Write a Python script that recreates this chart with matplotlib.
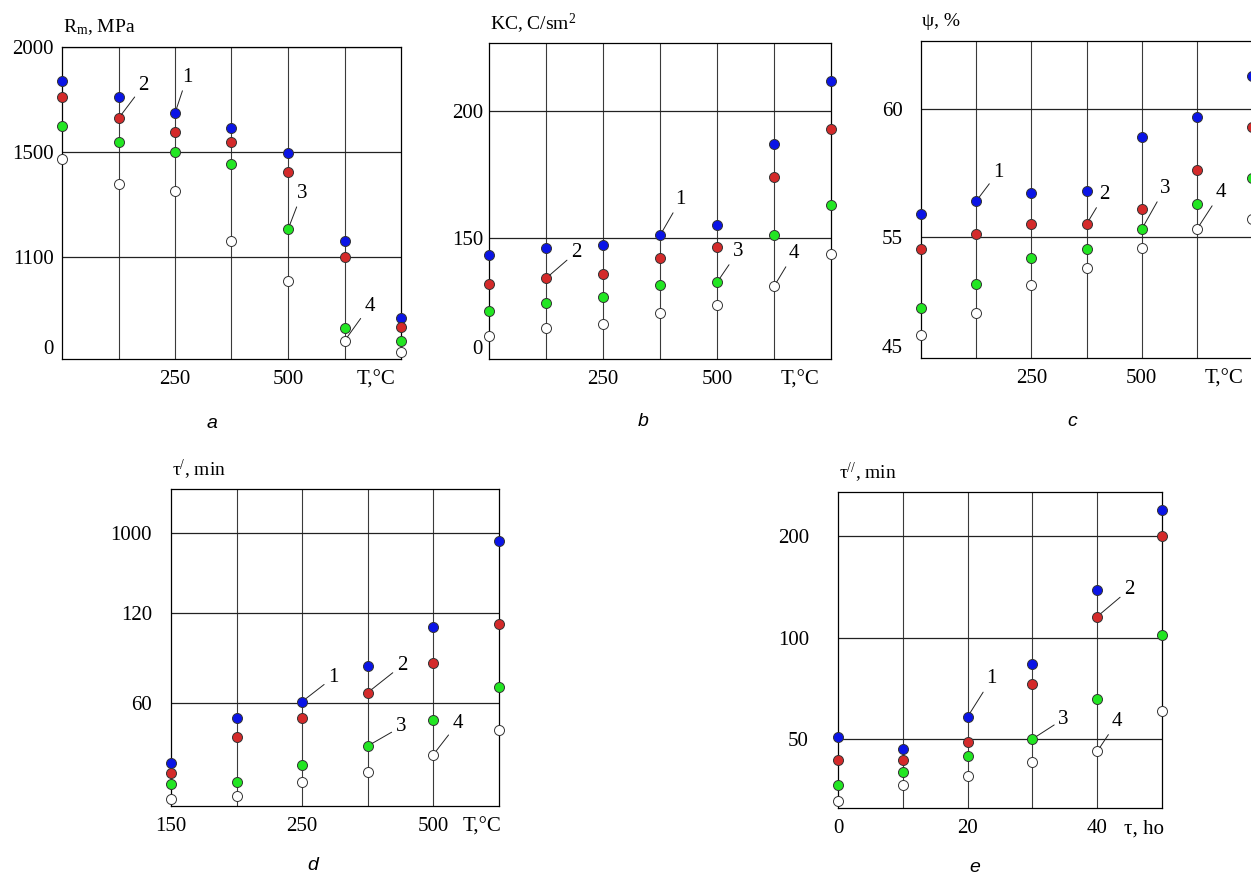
import numpy as np
import matplotlib
matplotlib.use("Agg")
import matplotlib.pyplot as plt

plt.rcParams["font.family"] = ["Liberation Serif", "DejaVu Serif"]
plt.rcParams["mathtext.fontset"] = "custom"
plt.rcParams["mathtext.rm"] = "Liberation Serif"
plt.rcParams["mathtext.it"] = "Liberation Serif:italic"

# --- data (curves 1..4 = blue, red, green, open) ---
temp = [0, 125, 250, 375, 500, 625, 750]
temp_ticks = [250, 500]

rm_1 = [1840, 1760, 1685, 1615, 1495, 1160, 440]
rm_2 = [1760, 1660, 1595, 1550, 1425, 1100, 345]
rm_3 = [1625, 1550, 1500, 1455, 1205, 335, 195]
rm_4 = [1475, 1380, 1350, 1160, 840, 195, 75]
rm_yticks = [0, 1100, 1500, 2000]

kc_1 = [129, 138, 141, 151, 155, 187, 212]
kc_2 = [93, 100, 105, 125, 139, 174, 193]
kc_3 = [60, 69, 77, 92, 95, 151, 163]
kc_4 = [29, 38, 43, 57, 67, 90, 130]
kc_yticks = [0, 150, 200]

psi_1 = [55.9, 56.4, 56.7, 56.8, 58.9, 59.7, 61.3]
psi_2 = [54.0, 55.1, 55.5, 55.5, 56.1, 57.6, 59.3]
psi_3 = [49.1, 51.1, 53.3, 54.0, 55.3, 56.3, 57.3]
psi_4 = [46.9, 48.7, 51.0, 52.4, 54.1, 55.3, 55.7]
psi_yticks = [45, 55, 60]

temp_d = [0, 1, 2, 3, 4, 5]
temp_d_ticks = [0, 2, 4]
temp_d_labels = ["150", "250", "500"]
tau1_1 = [25, 51, 61, 85, 111, 912]
tau1_2 = [19, 40, 51, 67, 87, 113]
tau1_3 = [13, 14, 24, 35, 50, 71]
tau1_4 = [4, 6, 14, 20, 30, 44]
tau1_yticks = [60, 120, 1000]

hours = [0, 10, 20, 30, 40, 50]
hours_ticks = [0, 20, 40]
tau2_1 = [51, 43, 61, 87, 147, 225]
tau2_2 = [35, 35, 48, 77, 121, 200]
tau2_3 = [17, 26, 38, 50, 70, 103]
tau2_4 = [5, 17, 23, 33, 41, 64]
tau2_yticks = [50, 100, 200]

colors = ["#0a14e6", "#d42a2a", "#22e622", "white"]

W, H = 1251, 876
fig = plt.figure(figsize=(W / 100, H / 100), dpi=100)


def rect(l, t, r, b):
    return [l / W, 1 - b / H, (r - l) / W, (b - t) / H]


def broken_scale(ax, vals, heights):
    # the original uses a stretched, uneven value axis
    ax.set_yscale("function", functions=(lambda v: np.interp(v, vals, heights),
                                         lambda h: np.interp(h, heights, vals)))
    ax.set_ylim(vals[0], vals[-1])


def panel(box, x, xlim, series, scale, yticks, ylabels, ypad,
          xticks, xlabels, xname, xname_pos, yname, notes, raise_zero):
    ax = fig.add_axes(rect(*box))
    broken_scale(ax, *scale)
    ax.set_xlim(*xlim)
    for sp in ax.spines.values():
        sp.set_linewidth(0.9)
    for xv in x[1:-1]:
        ax.axvline(xv, color="#3a3a3a", lw=0.8, zorder=1)
    for yv in yticks:
        if yv > scale[0][0]:
            ax.axhline(yv, color="#222222", lw=0.9, zorder=1)
    for vals, col in zip(series, colors):
        ax.plot(x, vals, ls="none", marker="o", ms=7.2, mfc=col, mec="#333333",
                mew=0.7, clip_on=False, zorder=3)

    ax.set_yticks(yticks, ylabels)
    ax.set_xticks(xticks, xlabels)
    ax.tick_params(axis="y", length=0, pad=ypad, labelsize=15)
    ax.tick_params(axis="x", length=0, pad=8, labelsize=15)
    if raise_zero:
        ax.get_yticklabels()[0].set_verticalalignment("bottom")

    ax.annotate(xname, xy=(xname_pos, 0), xycoords="axes fraction",
                xytext=(0, -8), textcoords="offset points",
                ha="center", va="top", fontsize=15)
    ax.annotate(yname, xy=(0, 1), xycoords="axes fraction",
                xytext=(1, 14), textcoords="offset points",
                ha="left", va="center", fontsize=14)

    for label, k, i, dx, dy in notes:
        ax.annotate(label, xy=(x[i], series[k][i]), xytext=(dx, dy),
                    textcoords="offset points", ha="center", va="center",
                    fontsize=15, zorder=4,
                    arrowprops=dict(arrowstyle="-", lw=0.7, color="#222222",
                                    shrinkA=1, shrinkB=3.5))
    return ax


panel((62, 47, 401, 359), temp, (0, 750), [rm_1, rm_2, rm_3, rm_4],
      ([0, 1100, 1500, 2000], [0, 102, 207, 312]),
      rm_yticks, [str(v) for v in rm_yticks], 5.8,
      temp_ticks, [str(v) for v in temp_ticks], "T,°C", 0.926,
      r"R$_{\mathrm{m}}$, MPa",
      [("1", 0, 2, 8.6, 25.9), ("2", 1, 1, 18, 23.8),
       ("3", 2, 4, 10, 26), ("4", 3, 5, 18, 25)], True)

panel((489, 43, 831, 359), temp, (0, 750), [kc_1, kc_2, kc_3, kc_4],
      ([0, 150, 200, 227], [0, 121, 248, 316]),
      kc_yticks, [str(v) for v in kc_yticks], 4.3,
      temp_ticks, [str(v) for v in temp_ticks], "T,°C", 0.909,
      r"KC, C/sm$^{2}$",
      [("1", 0, 3, 15, 26), ("2", 1, 1, 21.6, 18.7),
       ("3", 2, 4, 15, 22), ("4", 3, 5, 14.4, 23.8)], True)

panel((921, 41, 1252, 358), temp, (0, 750), [psi_1, psi_2, psi_3, psi_4],
      ([45, 55, 60, 62.7], [0, 121, 249, 317]),
      psi_yticks, [str(v) for v in psi_yticks], 13,
      temp_ticks, [str(v) for v in temp_ticks], "T,°C", 0.915,
      "ψ, %",
      [("1", 0, 1, 15.8, 20.9), ("2", 1, 3, 13, 21.6),
       ("3", 2, 4, 16.6, 29.5), ("4", 3, 5, 17.3, 26.6)], True)

panel((171, 489, 499, 806), temp_d, (0, 5), [tau1_1, tau1_2, tau1_3, tau1_4],
      ([0, 60, 120, 1000, 1480], [0, 103, 193, 273, 317]),
      tau1_yticks, [str(v) for v in tau1_yticks], 13.7,
      temp_d_ticks, temp_d_labels, "T,°C", 0.948,
      r"τ$^{/}$, min",
      [("1", 0, 2, 22.3, 17.3), ("2", 1, 3, 24.5, 19.4),
       ("3", 2, 3, 23.8, 13.7), ("4", 3, 4, 17.3, 22.3)], False)

panel((838, 492, 1162, 808), hours, (0, 50), [tau2_1, tau2_2, tau2_3, tau2_4],
      ([0, 50, 100, 200, 243], [0, 69, 170, 272, 316]),
      tau2_yticks, [str(v) for v in tau2_yticks], 21,
      hours_ticks, [str(v) for v in hours_ticks], "τ, ho", 0.944,
      r"τ$^{//}$, min",
      [("1", 0, 2, 17.3, 27.4), ("2", 1, 4, 23, 19.4),
       ("3", 2, 3, 22.3, 14.4), ("4", 3, 4, 14.4, 21.6)], False)

# panel letters
for letter, px, py in [("a", 212, 423), ("b", 643, 422), ("c", 1072, 422),
                       ("d", 313, 866), ("e", 975, 867)]:
    fig.text(px / W, 1 - py / H, letter, ha="center", va="center",
             fontsize=14, style="italic", family="Liberation Sans")

fig.savefig("out.png", dpi=100)
